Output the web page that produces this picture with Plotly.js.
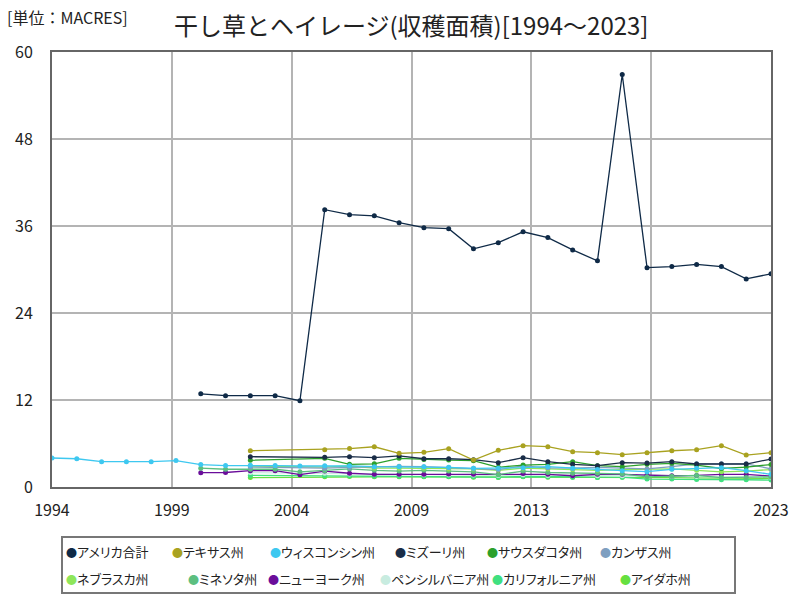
<!DOCTYPE html>
<html>
<head>
<meta charset="utf-8">
<script src="https://cdn.plot.ly/plotly-3.0.1.min.js"></script>
<style>
html,body{margin:0;padding:0;background:#fff;}
#chart{width:800px;height:600px;}
.annotation-text{font-feature-settings:"palt" 1;}
.annotation[data-index="0"] .annotation-text{font-feature-settings:normal;}
</style>
</head>
<body>
<div id="chart"></div>
<script>
const years = [1994,1995,1996,1997,1998,1999,2000,2001,2002,2003,2004,2005,2006,2007,2008,2009,2010,2011,2012,2013,2014,2015,2016,2017,2018,2019,2020,2021,2022,2023];
const N = null;
const usTotal      = [N,N,N,N,N,N,12.85,12.6,12.6,12.6,11.9,38.25,37.56,37.4,36.45,35.77,35.63,32.85,33.7,35.2,34.4,32.7,31.2,56.9,30.25,30.4,30.7,30.4,28.7,29.4];
const texas        = [N,N,N,N,N,N,N,N,5.0,N,N,5.15,5.3,5.55,4.65,4.78,5.29,3.72,5.06,5.7,5.56,4.87,4.73,4.46,4.73,5.0,5.15,5.7,4.41,4.73];
const wisconsin    = [4.0,3.9,3.5,3.5,3.5,3.65,3.1,2.95,3.0,2.95,2.9,2.92,2.92,2.8,2.8,2.8,2.72,2.57,2.57,2.67,2.8,2.57,2.43,2.25,2.11,2.44,2.57,2.67,2.25,1.75];
const missouri     = [N,N,N,N,N,N,N,N,4.18,N,N,4.09,4.18,4.05,4.28,3.9,3.9,3.77,3.35,4.05,3.5,3.13,2.94,3.35,3.3,3.5,3.17,3.17,3.17,3.86];
const southDakota  = [N,N,N,N,N,N,N,N,3.68,N,N,3.95,3.13,3.2,3.95,3.8,3.72,3.63,2.71,3.03,3.13,3.5,2.94,2.8,3.13,3.26,3.03,2.55,2.75,3.1];
const kansas       = [N,N,N,N,N,N,N,N,2.75,N,N,2.6,2.7,2.8,2.85,2.8,2.7,2.6,2.4,2.9,2.65,2.6,2.7,2.6,2.5,2.8,3.2,3.2,3.2,2.5];
const nebraska     = [N,N,N,N,N,N,N,N,2.9,N,N,2.75,2.9,2.6,2.6,2.6,2.5,2.5,2.3,2.6,2.5,2.4,2.3,2.4,2.4,2.5,2.3,2.1,2.2,2.4];
const minnesota    = [N,N,N,N,N,N,2.6,2.45,2.45,2.45,2.1,2.25,2.5,2.3,2.2,2.3,2.2,2.1,1.7,2.2,2.0,1.9,1.9,1.8,1.4,1.5,1.6,1.3,1.3,1.4];
const newYork      = [N,N,N,N,N,N,1.98,2.0,2.25,2.25,1.7,2.2,1.9,1.75,1.75,1.75,1.8,1.75,1.75,1.85,1.75,1.55,1.75,1.75,1.65,1.55,1.6,1.75,1.75,1.5];
const pennsylvania = [N,N,N,N,N,N,N,N,2.0,N,N,1.9,1.8,1.8,1.75,1.7,1.7,1.65,1.6,1.7,1.6,1.6,1.55,1.55,1.45,1.5,1.45,1.4,1.4,1.35];
const california   = [N,N,N,N,N,N,N,N,1.6,N,N,1.55,1.55,1.5,1.5,1.45,1.45,1.4,1.35,1.45,1.4,1.35,1.3,1.35,1.1,1.1,1.05,1.0,1.0,0.95];
const idaho        = [N,N,N,N,N,N,N,N,1.3,N,N,1.4,1.45,1.4,1.4,1.4,1.4,1.35,1.3,1.4,1.35,1.35,1.3,1.35,1.3,1.3,1.25,1.25,1.2,1.2];

const seriesNames = ['アメリカ合計','テキサス州','ウィスコンシン州','ミズーリ州','サウスダコタ州','カンザス州','ネブラスカ州','ミネソタ州','ニューヨーク州','ペンシルバニア州','カリフォルニア州','アイダホ州'];
const seriesData = [usTotal,texas,wisconsin,missouri,southDakota,kansas,nebraska,minnesota,newYork,pennsylvania,california,idaho];
const seriesColors = ['#0f2a47','#a9a220','#3ec8f0','#1a2d47','#2ca02c','#7f9fc0','#8ee65a','#5cbf80','#6a0d9a','#c8ece0','#40e080','#66e040'];

// legend layout: pixel x of each legend dot centre, and row centre y
const legendDotPx = [70,176,274,399,491,604, 70,192,272,384,496,624];
const legendRowY = [551, 578];

const traces = [];
for (let i = seriesNames.length - 1; i >= 0; i--) {
  traces.push({
    x: years, y: seriesData[i], type: 'scatter', mode: 'lines+markers',
    connectgaps: true, name: seriesNames[i], showlegend: false,
    line: {color: seriesColors[i], width: 1.3},
    marker: {color: seriesColors[i], size: 5}
  });
}

const x0 = years[0], x1 = years[years.length - 1];
const tickVals = [], tickText = [];
for (let k = 0; k <= 6; k++) {
  const v = x0 + k * (x1 - x0) / 6;
  tickVals.push(v);
  tickText.push(String(Math.round(v)));
}

const font = '"Noto Sans CJK JP", "Noto Sans", sans-serif';
const plotL = 52, plotW = 719, plotB = 487, plotH = 435;
const annotations = [{text: '[単位：MACRES]', xref: 'paper', yref: 'paper', x: -0.06, y: 1.08, xanchor: 'left', yanchor: 'middle', showarrow: false, font: {size: 16, family: font, color: '#222'}}];
for (let i = 0; i < seriesNames.length; i++) {
  const row = i < 6 ? 0 : 1;
  annotations.push({
    text: '<span style="color:' + seriesColors[i] + ';font-size:11px">●</span>' + seriesNames[i],
    xref: 'paper', yref: 'paper',
    x: (legendDotPx[i] - 6 - plotL) / plotW,
    y: (plotB - legendRowY[row]) / plotH,
    xanchor: 'left', yanchor: 'middle', showarrow: false,
    font: {size: 13, family: font, color: '#222'}
  });
}

const layout = {
  width: 800, height: 600,
  paper_bgcolor: '#ffffff', plot_bgcolor: '#ffffff',
  margin: {l: 52, r: 29, t: 52, b: 113, autoexpand: false},
  font: {family: font, color: '#222'},
  title: {text: '干し草とヘイレージ(収穫面積)[1994～2023]', x: 0.514, xanchor: 'center', y: 0.955, yanchor: 'middle', font: {size: 24, family: font, color: '#222'}},
  annotations: annotations,
  shapes: [{type: 'rect', xref: 'paper', yref: 'paper', x0: (62 - plotL) / plotW, x1: (735 - plotL) / plotW, y0: (plotB - 537) / plotH, y1: (plotB - 593) / plotH, line: {color: '#777', width: 2}, fillcolor: 'rgba(0,0,0,0)', layer: 'above'}],
  xaxis: {
    range: [x0, x1], tickvals: tickVals, ticktext: tickText,
    showgrid: true, gridcolor: '#b4b4b4', gridwidth: 2,
    showline: true, mirror: true, linecolor: '#666', linewidth: 2,
    zeroline: false, ticks: '', ticklabelstandoff: 8,
    tickfont: {size: 16, family: font, color: '#222'}
  },
  yaxis: {
    range: [0, 60], tickvals: [0,12,24,36,48,60],
    showgrid: true, gridcolor: '#b4b4b4', gridwidth: 2,
    showline: true, mirror: true, linecolor: '#666', linewidth: 2,
    zeroline: false, ticks: '', ticklabelstandoff: 14,
    tickfont: {size: 16, family: font, color: '#222'}
  },
  showlegend: false
};

Plotly.newPlot('chart', traces, layout, {displayModeBar: false, staticPlot: true});
</script>
</body>
</html>
